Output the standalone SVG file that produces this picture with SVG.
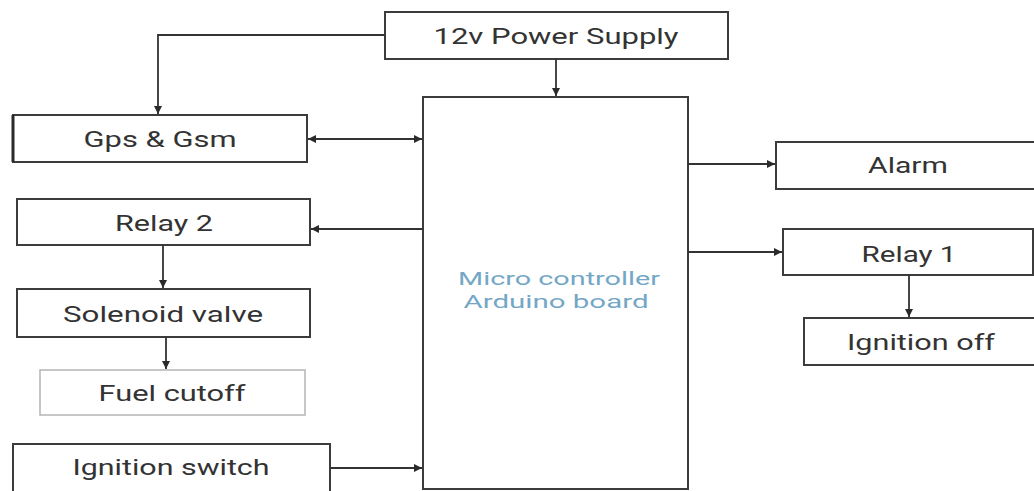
<svg xmlns="http://www.w3.org/2000/svg" width="1034" height="491" viewBox="0 0 1034 491">
<defs>
<marker id="ah" viewBox="0 0 10 10" refX="10" refY="5" markerWidth="9" markerHeight="8" markerUnits="userSpaceOnUse" orient="auto-start-reverse">
<path d="M0,0 L10,5 L0,10 z" fill="#2a2a2a"/>
</marker>
<style>
.box{fill:#fff;stroke:#3c3c3c;stroke-width:2}
.light{fill:#fff;stroke:#b4b4b4;stroke-width:1.5}
.lbl{font-family:Roboto,"Liberation Sans",sans-serif;font-size:22px;fill:#333;text-anchor:middle}
.mc{font-family:Roboto,"Liberation Sans",sans-serif;font-size:19px;fill:#74a7c6;text-anchor:middle}
.con{fill:none;stroke:#333;stroke-width:1.8}
</style>
</defs>
<rect width="1034" height="491" fill="#fff"/>
<g id="power"><rect class="box" x="385" y="12" width="343" height="47"/><text class="lbl" x="556" y="44" textLength="245" lengthAdjust="spacingAndGlyphs">12v Power Supply</text></g>
<g id="micro"><rect class="box" x="423" y="97" width="265" height="392"/><text class="mc" x="559" y="285" textLength="202" lengthAdjust="spacingAndGlyphs">Micro controller</text><text class="mc" x="556" y="308" textLength="185" lengthAdjust="spacingAndGlyphs">Arduino board</text></g>
<g id="gps"><rect class="box" x="13" y="115" width="294" height="47"/><line x1="13" y1="115" x2="13" y2="162" stroke="#2a2a2a" stroke-width="3"/><text class="lbl" x="160" y="147" textLength="153" lengthAdjust="spacingAndGlyphs">Gps &amp; Gsm</text></g>
<g id="relay2"><rect class="box" x="17" y="199" width="293" height="46"/><text class="lbl" x="164" y="231" textLength="98" lengthAdjust="spacingAndGlyphs">Relay 2</text></g>
<g id="solenoid"><rect class="box" x="17" y="289" width="293" height="48"/><text class="lbl" x="163" y="322" textLength="200" lengthAdjust="spacingAndGlyphs">Solenoid valve</text></g>
<g id="fuel"><rect class="light" x="40" y="370" width="265" height="45"/><text class="lbl" x="172" y="401" textLength="147" lengthAdjust="spacingAndGlyphs">Fuel cutoff</text></g>
<g id="ignswitch"><rect class="box" x="13" y="444" width="317" height="52"/><text class="lbl" x="171" y="475" textLength="197" lengthAdjust="spacingAndGlyphs">Ignition switch</text></g>
<g id="alarm"><rect class="box" x="776" y="142" width="270" height="47"/><text class="lbl" x="908" y="173" textLength="80" lengthAdjust="spacingAndGlyphs">Alarm</text></g>
<g id="relay1"><rect class="box" x="783" y="229" width="250" height="46"/><text class="lbl" x="909" y="262" textLength="95" lengthAdjust="spacingAndGlyphs">Relay 1</text></g>
<g id="ignoff"><rect class="box" x="804" y="318" width="240" height="47"/><text class="lbl" x="921" y="350" textLength="148" lengthAdjust="spacingAndGlyphs">Ignition off</text></g>
<g id="connectors">
<polyline class="con" points="385,35 158,35 158,114" marker-end="url(#ah)"/>
<line class="con" x1="556" y1="59" x2="556" y2="96" marker-end="url(#ah)"/>
<line class="con" x1="308" y1="139" x2="422" y2="139" marker-start="url(#ah)" marker-end="url(#ah)"/>
<line class="con" x1="423" y1="229" x2="311" y2="229" marker-end="url(#ah)"/>
<line class="con" x1="163" y1="245" x2="163" y2="288" marker-end="url(#ah)"/>
<line class="con" x1="166" y1="337" x2="166" y2="369" marker-end="url(#ah)"/>
<line class="con" x1="330" y1="468" x2="422" y2="468" marker-end="url(#ah)"/>
<line class="con" x1="688" y1="164" x2="775" y2="164" marker-end="url(#ah)"/>
<line class="con" x1="688" y1="252" x2="782" y2="252" marker-end="url(#ah)"/>
<line class="con" x1="909" y1="275" x2="909" y2="317" marker-end="url(#ah)"/>
</g>
</svg>
